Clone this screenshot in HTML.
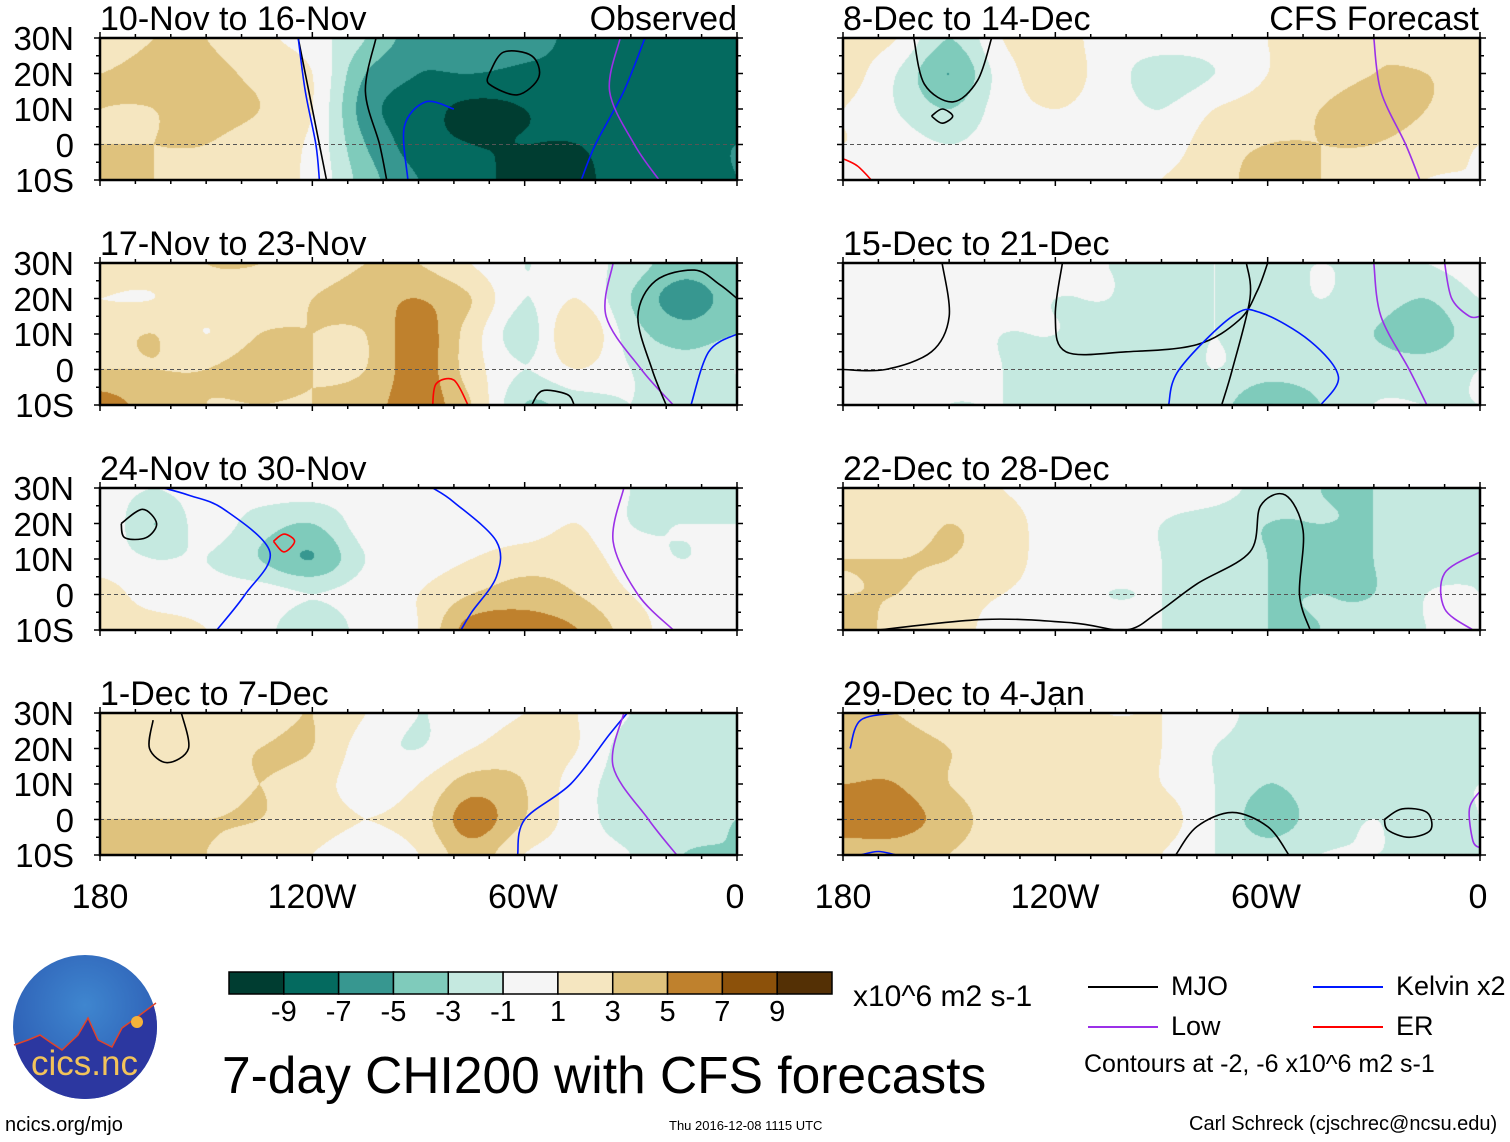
<!DOCTYPE html>
<html><head><meta charset="utf-8">
<style>
body{margin:0;background:#fff;width:1510px;height:1142px;position:relative;overflow:hidden;font-family:"Liberation Sans",Arial,sans-serif;}
.t{position:absolute;white-space:nowrap;color:#000;line-height:1;z-index:3;}
canvas{position:absolute;z-index:0;}
svg{position:absolute;left:0;top:0;z-index:1;}
</style></head>
<body>
<div id="root"></div>
<svg id="ov" width="1510" height="1142">
<defs><clipPath id="lc"><circle cx="85" cy="1027" r="72"/></clipPath>
<radialGradient id="lg" cx="0.5" cy="0.35" r="0.7"><stop offset="0" stop-color="#3f86cf"/><stop offset="1" stop-color="#2a57b0"/></radialGradient></defs>
</svg>
<script>
// Grid longitudes (deg W) and latitudes of anomaly values
const lonsW=[180,165,150,135,120,105,90,75,60,45,30,15,0];
const lats=[30,20,10,0,-10];
// Each panel: values per longitude column, [30N,20N,10N,0,10S]
const p1=[[2,3,3,3,5],[3,3.5,3,3,3],[3,3.5,3.5,3,2],[1.5,2.5,3,2,1.5],[0,1,1,0.5,0.5],[-3,-5,-6,-5,-4],[-6,-7,-8,-8,-7],[-5,-7,-9.5,-9,-8],[-6,-7.5,-9,-9,-10],[-7.5,-7.5,-8,-9,-9.5],[-7.5,-7.5,-7.5,-8,-8],[-7.5,-8,-7.5,-7.5,-7.5],[-7.5,-7.5,-7.5,-7,-7]];
const p2=[[2,1,2,3,6],[2,1,3,3,4],[3,2,1,3,3],[3,2,3,4,3],[2,3,3,3,3],[3,4,3,3,4],[3,5,6,6,6],[1,3,2,2,3],[-1,-1,-2,-1,-3],[0,1,3,1,-2],[-2,-3,-2,-1,-1],[-4,-6,-4,-2,-2],[-3,-4,-3,-1,-2]];
const p3=[[0,1,0,2,2],[-1,-3,-1,0,2],[0,0,-1,0,1],[0,-2,-3,0,0],[0,-3,-5,-1,-3],[0,0,-1,0,0],[0,0,0,1,1],[0,0,1,3,6],[0,0,2,4,6],[0,1,2,3,5],[-1,-1,0,1,2],[-2,-1,-1,0,0],[-2,-1,0,0,0]];
const p4=[[3,2,2,3,3],[2,1,2,3,3],[1,2,2,3,3],[2,3,3,3,2],[3,3,2,2,1],[1,0,0,1,0],[-1,-1,1,2,1],[0,1,4,6,4],[1,2,3,3,1],[1,1,0,0,0],[-1,-2,-2,-2,-1],[-2,-2,-2,-2,-3],[-1,-2,-2,-3,-3]];
const p5=[[2,2,1,1,0],[1,-1,-1,0,0],[-3,-5,-3,-1,0],[1,0,0,0,0],[2,2,1,0,0],[0,0,0,0,0],[0,-2,-1,0,1],[0,-1,1,2,2],[1,1,2,3,4],[2,2,3,3,3],[3,3,4,3,2],[2,3,3,2,1],[1,2,2,1,1]];
const p6=[[0,0,0,0,0],[0,0,0,0,0],[0,0,0,0,-1],[0,0,-1,-1,-1],[0,-1,-1,-2,-2],[-1,-1,-2,-2,-3],[-1,-2,-2,-2,-2],[-1,-1,-1,-1,-2],[-1,-2,-2,-2,-5],[-1,-1,-2,-2,-3],[-1,-2,-3,-2,-1],[-1,-3,-4,-2,-1],[0,-1,-2,-1,-1]];
const p7=[[2,2,3,3,5],[2,2,3,3,2],[2,3,3,2,2],[1,2,2,1,0],[0,0,0,0,0],[0,0,0,-1,0],[0,-1,-1,-1,-1],[0,-2,-2,-2,-2],[-2,-3,-3,-3,-3],[-3,-3,-4,-3,-3],[-3,-3,-3,-3,-2],[-2,-2,-2,-1,-1],[-1,-1,-1,-1,-1]];
const p8=[[3,4,5,6,4],[3,4,5,6,4],[2,3,3,4,3],[2,2,2,2,2],[2,2,2,2,2],[1,2,2,2,2],[1,1,1,2,1],[0,-1,-1,-1,-1],[-2,-2,-3,-4,-2],[-2,-2,-2,-2,-1],[-2,-2,-2,-1,-1],[-2,-2,-2,-2,-1],[-2,-2,-1,-1,-1]];
const titles=["10-Nov to 16-Nov","17-Nov to 23-Nov","24-Nov to 30-Nov","1-Dec to 7-Dec","8-Dec to 14-Dec","15-Dec to 21-Dec","22-Dec to 28-Dec","29-Dec to 4-Jan"];
const levels=[-9,-7,-5,-3,-1,1,3,5,7,9];
const levelLabels=["-9","-7","-5","-3","-1","1","3","5","7","9"];
const colors=["#003d31","#046a5f","#379790","#7fcbbb","#c5e9e0","#f5f5f5","#f5e6c0","#dfc27d","#bf812d","#8c510a","#543005"];
// contour lines: [type, [[lonW,lat],...]]
const lines1=[["k",[[124,30],[121,15],[118,0],[116,-10]]],["k",[[102,30],[105,15],[101,0],[99,-10]]],["k",[[70,20],[66,26],[58,25],[56,19],[62,14],[70,17],[70,20]]],["b",[[124,30],[122,15],[119,0],[118,-10]]],["b",[[93,-10],[94,5],[88,12],[80,10]]],["b",[[26,30],[32,15],[40,0],[44,-10]]],["p",[[33,30],[36,15],[29,0],[22,-10]]]];
const lines2=[["p",[[35,30],[37,15],[27,0],[18,-10]]],["k",[[20,-10],[24,0],[28,15],[23,25],[12,28],[5,24],[0,20]]],["b",[[0,10],[8,5],[13,-10]]],["r",[[86,-10],[85,-4],[80,-3],[76,-10]]],["k",[[58,-10],[55,-6],[48,-7],[46,-10]]]];
const lines3=[["b",[[147,-10],[139,0],[132,12],[145,24],[155,28],[162,30]]],["b",[[86,30],[80,26],[68,15],[68,5],[75,-5],[78,-10]]],["p",[[32,30],[35,15],[28,0],[18,-10]]],["k",[[174,20],[168,24],[164,20],[167,16],[173,16],[174,20]]],["r",[[131,15],[128,17],[125,15],[128,12],[131,15]]]];
const lines4=[["k",[[165,28],[166,20],[161,16],[155,20],[157,30]]],["b",[[62,-10],[60,0],[47,10],[36,24],[31,30]]],["p",[[32,30],[35,15],[25,0],[17,-10]]]];
const lines5=[["k",[[160,30],[157,17],[149,12],[142,18],[138,30]]],["k",[[155,8],[152,10],[149,8],[152,6],[155,8]]],["p",[[30,30],[28,15],[21,0],[17,-10]]],["r",[[180,-4],[176,-6],[172,-10]]]];
const lines6=[["k",[[152,30],[150,15],[155,5],[168,0],[180,0]]],["k",[[118,30],[120,15],[117,5],[100,5],[80,7],[68,14],[63,22],[60,30]]],["k",[[73,-10],[70,0],[65,20],[66,30]]],["b",[[88,-10],[85,0],[70,15],[62,16],[48,8],[40,-2],[45,-10]]],["p",[[30,30],[28,15],[20,0],[15,-10]]],["p",[[10,30],[8,20],[3,15],[0,15]]]];
const lines7=[["k",[[170,-10],[140,-7],[115,-8],[100,-10],[91,-5],[80,3],[65,12],[62,25],[55,28],[50,18],[51,0],[48,-10]]],["p",[[0,12],[10,6],[10,-4],[2,-10]]]];
const lines8=[["k",[[86,-10],[80,-2],[70,2],[60,-2],[54,-10]]],["k",[[27,0],[22,3],[15,2],[14,-3],[20,-5],[26,-3],[27,0]]],["b",[[178,20],[175,28],[165,30]]],["b",[[175,-10],[170,-9],[165,-10]]],["p",[[0,8],[3,3],[2,-6],[0,-8]]]];
const panels=[p1,p2,p3,p4,p5,p6,p7,p8];
const panelLines=[lines1,lines2,lines3,lines4,lines5,lines6,lines7,lines8];

const W=637,H=142;
const rowsY=[38,263,488,713], colsX=[100,843];
const root=document.getElementById('root');
const ov=document.getElementById('ov');
const NS="http://www.w3.org/2000/svg";
function xOf(lonW){return (180-lonW)/180*W;}
function yOf(lat){return (30-lat)/40*H;}
function hex(c){return [parseInt(c.substr(1,2),16),parseInt(c.substr(3,2),16),parseInt(c.substr(5,2),16)];}
const rgb=colors.map(hex);
function colIdx(v){let i=0;while(i<levels.length&&v>=levels[i])i++;return i;}
function cr(p0,p1,p2,p3,t){return 0.5*((2*p1)+(-p0+p2)*t+(2*p0-5*p1+4*p2-p3)*t*t+(-p0+3*p1-3*p2+p3)*t*t*t);}
function txt(x,y,s,size,name,anchor){const d=document.createElement('div');d.className='t';d.textContent=s;d.style.fontSize=size+'px';d.style.top=y+'px';
 if(anchor==='r'){d.style.right=(1510-x)+'px';}else if(anchor==='c'){d.style.left=x+'px';d.style.transform='translateX(-50%)';}else d.style.left=x+'px';
 
 
 root.appendChild(d);return d;}
function sv(tag,attrs,name){const e=document.createElementNS(NS,tag);for(const k in attrs)e.setAttribute(k,attrs[k]);
 
 
 ov.appendChild(e);return e;}
function smoothPath(P){let d='M'+P[0][0].toFixed(1)+','+P[0][1].toFixed(1);
 for(let i=0;i<P.length-1;i++){const p0=P[Math.max(i-1,0)],p1=P[i],p2=P[i+1],p3=P[Math.min(i+2,P.length-1)];
  const c1=[p1[0]+(p2[0]-p0[0])/6,p1[1]+(p2[1]-p0[1])/6],c2=[p2[0]-(p3[0]-p1[0])/6,p2[1]-(p3[1]-p1[1])/6];
  d+=' C'+c1.map(v=>v.toFixed(1)).join(',')+' '+c2.map(v=>v.toFixed(1)).join(',')+' '+p2[0].toFixed(1)+','+p2[1].toFixed(1);}
 return d;}
const lc={k:"#000",b:"#0018ff",p:"#9b30e8",r:"#ff0000"};

panels.forEach((grid,pi)=>{
 const ox=colsX[pi<4?0:1], oy=rowsY[pi%4];
 const cv=document.createElement('canvas');cv.width=W;cv.height=H;cv.style.left=ox+'px';cv.style.top=oy+'px';
 
 
 root.insertBefore(cv,root.firstChild);
 const ctx=cv.getContext('2d');
 const img=ctx.createImageData(W,H);
 const nC=lonsW.length-1,nR=lats.length-1;
 const g=(i,j)=>grid[Math.max(0,Math.min(nC,i))][Math.max(0,Math.min(nR,j))];
 for(let py=0;py<H;py++){for(let px=0;px<W;px++){
  const fx=px/(W-1)*nC, fy=py/(H-1)*nR;
  const i=Math.min(Math.floor(fx),nC-1), j=Math.min(Math.floor(fy),nR-1);
  const tx=fx-i, ty=fy-j;
  const rows=[];
  for(let m=-1;m<=2;m++)rows.push(cr(g(i-1,j+m),g(i,j+m),g(i+1,j+m),g(i+2,j+m),tx));
  const v=cr(rows[0],rows[1],rows[2],rows[3],ty);
  const c=rgb[colIdx(v)];const o=(py*W+px)*4;
  img.data[o]=c[0];img.data[o+1]=c[1];img.data[o+2]=c[2];img.data[o+3]=255;
 }}
 ctx.putImageData(img,0,0);
 sv('line',{x1:ox,x2:ox+W,y1:oy+yOf(0),y2:oy+yOf(0),stroke:'#555','stroke-width':1,'stroke-dasharray':'4,3'},'equator-line');
 panelLines[pi].forEach(([t,pts])=>{
  const P=pts.map(p=>[ox+xOf(p[0]),oy+yOf(p[1])]);
  sv('path',{d:smoothPath(P),fill:'none',stroke:lc[t],'stroke-width':1.6,'stroke-linejoin':'round'},'contour-'+({k:'mjo',b:'kelvin',p:'low',r:'er'})[t]);
 });
 sv('rect',{x:ox,y:oy,width:W,height:H,fill:'none',stroke:'#000','stroke-width':2.5},'panel-frame');
 for(let l=0;l<=180;l+=10){const x=ox+xOf(l);const big=(l%60===0);
  sv('line',{x1:x,x2:x,y1:oy,y2:oy-(big?6:4),stroke:'#000','stroke-width':1.5},'x-tick');
  sv('line',{x1:x,x2:x,y1:oy+H,y2:oy+H+(big?6:4),stroke:'#000','stroke-width':1.5},'x-tick');}
 for(let la=-10;la<=30;la+=5){const y=oy+yOf(la);const big=(la%10===0);
  sv('line',{x1:ox,x2:ox-(big?6:4),y1:y,y2:y,stroke:'#000','stroke-width':1.5},'y-tick');
  sv('line',{x1:ox+W,x2:ox+W+(big?6:4),y1:y,y2:y,stroke:'#000','stroke-width':1.5},'y-tick');}
 txt(ox,oy-36,titles[pi],34,'panel-title');
 if(pi<4){["30N","20N","10N","0","10S"].forEach((s,k)=>txt(74,oy+k*35.5-16,s,33,'y-axis-label','r'));}
});
txt(737,2,"Observed",34,'observed-label','r');
txt(1479,2,"CFS Forecast",34,'forecast-label','r');
[["180",100],["120W",312],["60W",523],["0",735]].forEach(([s,x])=>{txt(x,880,s,34,'x-axis-label','c');txt(x+743,880,s,34,'x-axis-label','c');});

const cbx=229,cby=972,cbw=603/11;
colors.forEach((c,k)=>sv('rect',{x:cbx+k*cbw,y:cby,width:cbw,height:22,fill:c,stroke:'#000','stroke-width':1.5},'colorbar-box'));
levelLabels.forEach((s,k)=>txt(cbx+(k+1)*cbw,998,s,29,'colorbar-label','c'));
txt(853,982,"x10^6 m2 s-1",30,'colorbar-units');
txt(222,1050,"7-day CHI200 with CFS forecasts",51.5,'chart-title');
[["MJO","#000",1088,987],["Low","#9b30e8",1088,1027],["Kelvin x2","#0018ff",1313,987],["ER","#ff0000",1313,1027]].forEach(([s,c,x,y])=>{
 sv('line',{x1:x,x2:x+70,y1:y,y2:y,stroke:c,'stroke-width':2},'legend-line-'+s.toLowerCase().split(' ')[0]);
 txt(x+83,y-14,s,27,'legend-entry');});
txt(1084,1052,"Contours at -2, -6 x10^6 m2 s-1",25,'contour-note');
txt(5,1115,"ncics.org/mjo",20,'source-url');
txt(669,1119,"Thu 2016-12-08 1115 UTC",13,'timestamp');
txt(1189,1114,"Carl Schreck (cjschrec@ncsu.edu)",20,'author-credit');
// logo
sv('circle',{cx:85,cy:1027,r:72,fill:'url(#lg)'},'logo-circle');
sv('path',{d:'M10,1045 L28,1040 L40,1035 L50,1042 L62,1050 L78,1035 L88,1018 L98,1040 L112,1047 L122,1028 L140,1015 L160,1000 L160,1110 L10,1110Z',fill:'#2c37a0','clip-path':'url(#lc)',stroke:'none'},'logo-mountains');
sv('path',{d:'M14,1045 L28,1040 L40,1035 L50,1042 L62,1050 L78,1035 L88,1018 L98,1040 L112,1047 L122,1028 L140,1015 L156,1003',fill:'none',stroke:'#e0442a','stroke-width':1.5},'logo-ridge');
sv('circle',{cx:137,cy:1022,r:6,fill:'#f6b23a'},'logo-sun');
const lt=txt(31,1046,"cics.nc",35,'logo-text');lt.style.color='#f2c35a';
</script>
</body></html>
